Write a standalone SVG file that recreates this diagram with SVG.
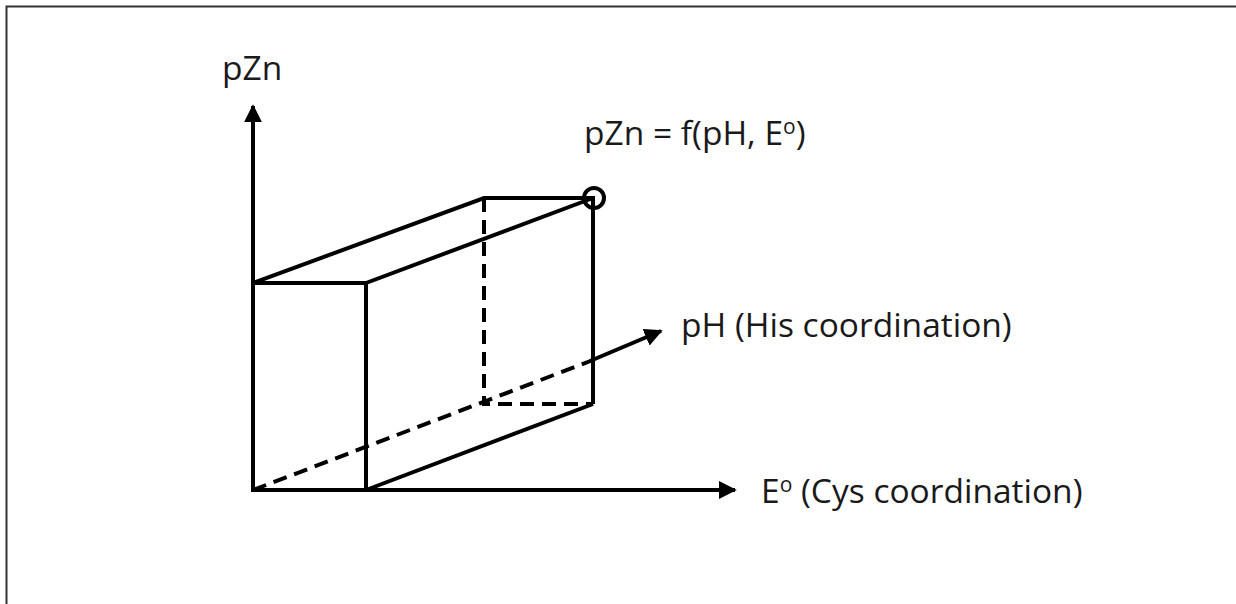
<svg xmlns="http://www.w3.org/2000/svg" width="1236" height="604" viewBox="0 0 1236 604">
<defs>
<style>
.ln{stroke:#000;stroke-width:4;fill:none;stroke-linecap:butt}
.ds{stroke:#000;stroke-width:4;fill:none;stroke-dasharray:14 8}
.tx{font-family:"Open Sans","Liberation Sans",sans-serif;font-size:33.5px;fill:#1a1a1a}
.sup{font-size:21px}
</style>
<marker id="ah" viewBox="0 0 10 10" refX="9" refY="5" markerWidth="4.5" markerHeight="4.5" orient="auto" markerUnits="strokeWidth">
<path d="M0,0 L10,5 L0,10 Z" fill="#000"/>
</marker>
</defs>
<rect width="1236" height="604" fill="#fff"/>
<g id="border" stroke="#333" stroke-width="2" fill="none">
<path d="M6.5,604 V6.5 H1236"/>
</g>
<g id="connectors">
<line class="ln" x1="253" y1="492" x2="253" y2="106" marker-end="url(#ah)"/>
<line class="ln" x1="251" y1="490" x2="735" y2="490" marker-end="url(#ah)"/>
<line class="ds" x1="253" y1="490" x2="593" y2="360"/>
<line class="ln" x1="590" y1="361" x2="661" y2="331" marker-end="url(#ah)"/>
</g>
<g id="box">
<path class="ln" d="M253,283 H366 V490"/>
<path class="ln" d="M253,283 L484,198 H593 V404"/>
<path class="ln" d="M366,283 L593,198"/>
<path class="ln" d="M366,490 L593,404"/>
<path class="ds" d="M484,198 V404 H593"/>
</g>
<g id="point">
<circle cx="594" cy="198" r="10" class="ln" stroke-width="3.5"/>
</g>
<g id="labels">
<text class="tx" x="222" y="80">pZn</text>
<text class="tx" x="584" y="145">pZn = f(pH, E<tspan class="sup" dy="-11">o</tspan><tspan dy="11">)</tspan></text>
<text class="tx" x="681" y="337">pH (His coordination)</text>
<text class="tx" x="761" y="503">E<tspan class="sup" dy="-11">o</tspan><tspan dy="11"> (Cys coordination)</tspan></text>
</g>
</svg>
